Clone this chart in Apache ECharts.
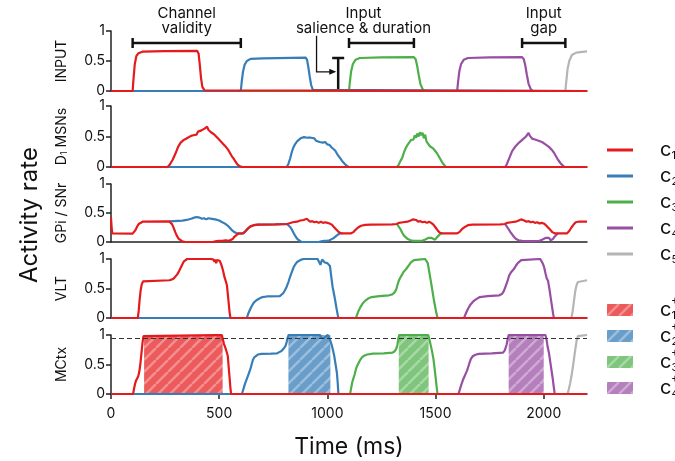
<!DOCTYPE html>
<html lang="en">
<head>
<meta charset="UTF-8">
<script src="https://cdn.jsdelivr.net/npm/echarts@6/dist/echarts.min.js"></script>
<style>html,body{margin:0;padding:0;background:#fff}#main{width:675px;height:461px}</style>
</head>
<body>
<div id="main"></div>
<script>
// time axis / ticks
var timeMax = 2200;
var xTicks = [0, 500, 1000, 1500, 2000];
var channelNames = ['c1', 'c2', 'c3', 'c4', 'c5'];
var patchNames = ['c1+', 'c2+', 'c3+', 'c4+'];
var panelNames = ['INPUT', 'D{s|1} MSNs', 'GPi / SNr', 'VLT', 'MCtx'];
var threshold = 0.95;

// INPUT
var inputC1 = [[0,0],[100,0],[104,0.2],[110,0.45],[117,0.58],[127,0.63],[145,0.655],[250,0.665],[398,0.67],[405,0.62],[410,0.45],[416,0.22],[422,0.07],[432,0.01],[440,0],[2200,0]];
var inputC2 = [[0,0],[600,0],[604,0.15],[610,0.32],[618,0.44],[628,0.5],[645,0.535],[700,0.545],[900,0.555],[906,0.52],[912,0.4],[918,0.25],[925,0.1],[933,0.02],[942,0],[2200,0]];
var inputC3 = [[0,0],[1100,0],[1104,0.15],[1110,0.33],[1118,0.45],[1130,0.52],[1150,0.55],[1250,0.56],[1400,0.565],[1408,0.53],[1415,0.42],[1422,0.27],[1430,0.12],[1440,0.03],[1452,0],[2200,0]];
var inputC4 = [[0,0],[1600,0],[1604,0.15],[1610,0.33],[1618,0.45],[1630,0.52],[1650,0.55],[1750,0.56],[1900,0.565],[1908,0.53],[1915,0.42],[1922,0.27],[1930,0.12],[1940,0.03],[1950,0],[2200,0]];
var inputC5 = [[0,0],[2100,0],[2104,0.15],[2110,0.36],[2118,0.5],[2130,0.6],[2150,0.64],[2200,0.66]];

// D1 MSNs
var d1C1 = [[0,0],[262,0],[272,0.04],[285,0.12],[298,0.22],[310,0.33],[322,0.4],[335,0.44],[345,0.46],[355,0.48],[362,0.47],[370,0.51],[380,0.52],[388,0.55],[395,0.53],[402,0.58],[410,0.56],[418,0.6],[425,0.58],[432,0.63],[438,0.6],[444,0.66],[450,0.61],[456,0.63],[462,0.57],[470,0.59],[478,0.53],[486,0.5],[494,0.47],[502,0.44],[510,0.41],[518,0.38],[526,0.35],[534,0.33],[542,0.28],[550,0.23],[558,0.18],[566,0.14],[575,0.09],[585,0.04],[596,0.01],[608,0],[2200,0]];
var d1C2 = [[0,0],[812,0],[820,0.05],[828,0.14],[836,0.25],[844,0.33],[852,0.38],[860,0.42],[868,0.45],[876,0.47],[884,0.46],[892,0.49],[900,0.46],[908,0.48],[916,0.45],[924,0.48],[932,0.45],[940,0.47],[948,0.43],[956,0.46],[964,0.41],[972,0.43],[980,0.4],[990,0.41],[1000,0.37],[1010,0.36],[1020,0.32],[1028,0.33],[1036,0.27],[1044,0.22],[1052,0.18],[1060,0.14],[1068,0.1],[1076,0.07],[1086,0.03],[1098,0],[2200,0]];
var d1C3 = [[0,0],[1322,0],[1330,0.04],[1338,0.1],[1346,0.15],[1354,0.24],[1362,0.31],[1370,0.36],[1378,0.4],[1386,0.44],[1392,0.47],[1398,0.45],[1404,0.52],[1410,0.48],[1416,0.55],[1422,0.5],[1428,0.57],[1434,0.52],[1440,0.56],[1446,0.47],[1452,0.53],[1458,0.42],[1466,0.38],[1474,0.34],[1482,0.32],[1490,0.3],[1498,0.27],[1506,0.23],[1514,0.18],[1522,0.13],[1530,0.08],[1538,0.04],[1548,0],[2200,0]];
var d1C4 = [[0,0],[1822,0],[1830,0.05],[1838,0.12],[1846,0.19],[1854,0.26],[1862,0.3],[1870,0.34],[1878,0.36],[1886,0.4],[1894,0.42],[1902,0.45],[1910,0.47],[1918,0.5],[1924,0.53],[1930,0.56],[1936,0.51],[1942,0.48],[1948,0.46],[1954,0.44],[1960,0.45],[1968,0.42],[1976,0.43],[1984,0.4],[1992,0.41],[2000,0.38],[2008,0.37],[2016,0.35],[2024,0.33],[2032,0.3],[2040,0.27],[2048,0.23],[2056,0.18],[2064,0.13],[2072,0.09],[2080,0.05],[2088,0.02],[2096,0],[2200,0]];
var d1C5 = [[0,0],[2200,0]];

// GPi / SNr
var gpiC1 = [[0,0.42],[3,0.25],[6,0.15],[100,0.145],[106,0.16],[112,0.2],[120,0.26],[128,0.31],[136,0.34],[146,0.35],[270,0.355],[276,0.34],[283,0.3],[290,0.24],[297,0.17],[304,0.11],[312,0.06],[320,0.03],[330,0.01],[342,0],[470,0],[476,0.02],[482,0.01],[490,0.03],[498,0.02],[506,0.04],[514,0.02],[522,0.04],[530,0.03],[538,0.045],[546,0.02],[554,0.04],[562,0.05],[570,0.09],[578,0.12],[588,0.145],[610,0.15],[620,0.18],[632,0.23],[645,0.27],[660,0.29],[680,0.3],[760,0.305],[814,0.31],[822,0.33],[840,0.34],[860,0.35],[875,0.37],[890,0.38],[898,0.36],[905,0.4],[912,0.37],[920,0.35],[930,0.36],[940,0.34],[950,0.35],[960,0.33],[970,0.35],[980,0.33],[990,0.34],[1000,0.33],[1010,0.32],[1020,0.3],[1030,0.26],[1040,0.22],[1050,0.18],[1060,0.155],[1070,0.15],[1110,0.15],[1120,0.17],[1130,0.21],[1142,0.25],[1156,0.28],[1175,0.295],[1200,0.3],[1300,0.305],[1320,0.31],[1330,0.33],[1350,0.34],[1370,0.35],[1385,0.37],[1395,0.39],[1402,0.36],[1410,0.38],[1420,0.35],[1430,0.36],[1440,0.34],[1450,0.35],[1460,0.33],[1470,0.35],[1480,0.33],[1490,0.3],[1500,0.25],[1510,0.2],[1520,0.16],[1530,0.15],[1600,0.15],[1610,0.17],[1622,0.22],[1636,0.26],[1650,0.29],[1670,0.3],[1800,0.305],[1820,0.31],[1830,0.33],[1850,0.34],[1870,0.35],[1885,0.37],[1895,0.39],[1902,0.36],[1910,0.37],[1920,0.35],[1930,0.36],[1940,0.34],[1950,0.35],[1960,0.33],[1970,0.34],[1980,0.32],[1990,0.33],[2000,0.32],[2010,0.29],[2020,0.25],[2030,0.21],[2040,0.17],[2050,0.15],[2108,0.15],[2118,0.19],[2128,0.25],[2138,0.3],[2148,0.34],[2160,0.35],[2200,0.35]];
var gpiC2 = [[270,0.355],[290,0.36],[310,0.365],[330,0.37],[350,0.38],[370,0.4],[385,0.42],[395,0.43],[402,0.41],[410,0.42],[420,0.4],[430,0.41],[440,0.39],[450,0.41],[458,0.39],[466,0.4],[474,0.38],[482,0.39],[490,0.37],[500,0.37],[510,0.35],[520,0.33],[530,0.31],[540,0.28],[550,0.24],[560,0.2],[570,0.17],[580,0.155],[590,0.15],[610,0.15],[620,0.18],[632,0.23],[645,0.27],[660,0.29],[680,0.3],[760,0.305],[814,0.31],[822,0.29],[830,0.25],[838,0.2],[846,0.14],[854,0.09],[862,0.05],[870,0.02],[880,0],[960,0],[966,0.02],[972,0.01],[978,0.03],[984,0.02],[990,0.04],[996,0.02],[1002,0.04],[1010,0.03],[1020,0.05],[1030,0.07],[1040,0.1],[1050,0.13],[1060,0.15],[1070,0.15]];
var gpiC3 = [[1322,0.31],[1330,0.28],[1338,0.22],[1346,0.16],[1354,0.11],[1362,0.08],[1372,0.05],[1385,0.03],[1400,0.02],[1420,0.02],[1440,0.025],[1450,0.04],[1458,0.06],[1466,0.07],[1474,0.06],[1482,0.07],[1490,0.04],[1498,0.04],[1506,0.08],[1514,0.11],[1522,0.14],[1532,0.15]];
var gpiC4 = [[1822,0.31],[1830,0.28],[1838,0.22],[1846,0.17],[1854,0.13],[1862,0.09],[1872,0.05],[1884,0.03],[1900,0.02],[1940,0.015],[1980,0.02],[1992,0.04],[2000,0.06],[2008,0.07],[2016,0.06],[2024,0.07],[2032,0.03],[2042,0.05],[2050,0.09],[2058,0.12],[2066,0.15]];
var gpiC5 = [];

// VLT
var vltC1 = [[0,0],[124,0],[128,0.12],[132,0.3],[137,0.47],[142,0.57],[148,0.62],[156,0.64],[270,0.64],[280,0.65],[290,0.67],[298,0.7],[306,0.74],[314,0.79],[322,0.85],[330,0.91],[337,0.96],[344,0.99],[352,1],[462,1],[468,0.98],[474,0.99],[478,0.95],[482,0.99],[486,0.93],[490,0.98],[496,0.96],[502,0.97],[507,0.93],[512,0.88],[518,0.8],[524,0.7],[530,0.63],[536,0.55],[540,0.4],[544,0.25],[548,0.1],[552,0],[2200,0]];
var vltC2 = [[0,0],[628,0],[634,0.07],[642,0.14],[650,0.2],[660,0.26],[672,0.3],[686,0.33],[700,0.355],[720,0.365],[780,0.37],[788,0.39],[796,0.42],[804,0.47],[812,0.53],[820,0.61],[828,0.7],[836,0.78],[844,0.86],[852,0.91],[860,0.95],[870,0.97],[880,0.99],[890,1],[955,1],[962,0.98],[968,0.9],[972,0.95],[976,0.99],[982,0.98],[988,0.94],[994,0.97],[1000,0.93],[1006,0.95],[1012,0.88],[1018,0.7],[1024,0.53],[1030,0.42],[1036,0.3],[1042,0.17],[1047,0.07],[1051,0],[2200,0]];
var vltC3 = [[0,0],[1132,0],[1138,0.06],[1144,0.12],[1152,0.18],[1162,0.24],[1174,0.29],[1188,0.33],[1205,0.355],[1240,0.37],[1285,0.385],[1300,0.4],[1310,0.43],[1318,0.48],[1324,0.56],[1330,0.63],[1338,0.69],[1346,0.74],[1352,0.78],[1362,0.82],[1370,0.86],[1378,0.9],[1385,0.94],[1392,0.96],[1400,0.98],[1408,1],[1452,1],[1458,0.98],[1464,0.93],[1470,0.8],[1478,0.63],[1486,0.45],[1494,0.27],[1502,0.12],[1509,0],[2200,0]];
var vltC4 = [[0,0],[1632,0],[1638,0.06],[1644,0.11],[1652,0.17],[1662,0.23],[1674,0.28],[1688,0.32],[1705,0.355],[1740,0.37],[1795,0.385],[1808,0.41],[1816,0.46],[1822,0.52],[1828,0.58],[1834,0.64],[1840,0.72],[1848,0.77],[1856,0.8],[1864,0.84],[1872,0.89],[1880,0.93],[1888,0.96],[1896,0.98],[1904,1],[1984,1],[1990,0.97],[1996,0.92],[2002,0.86],[2008,0.76],[2014,0.67],[2020,0.63],[2026,0.5],[2032,0.35],[2038,0.2],[2043,0.08],[2047,0],[2200,0]];
var vltC5 = [[0,0],[2128,0],[2134,0.12],[2140,0.3],[2146,0.46],[2152,0.56],[2158,0.61],[2166,0.635],[2200,0.64]];

// MCtx
var mctxC1 = [[0,0],[102,0],[106,0.08],[111,0.17],[116,0.23],[121,0.26],[126,0.3],[131,0.38],[136,0.52],[141,0.7],[146,0.88],[150,0.98],[153,1],[512,1],[516,0.94],[522,0.85],[528,0.79],[534,0.72],[540,0.64],[544,0.45],[548,0.28],[552,0.1],[555,0],[2200,0]];
var mctxC2 = [[0,0],[605,0],[610,0.06],[615,0.12],[620,0.18],[626,0.24],[632,0.3],[638,0.36],[644,0.42],[650,0.5],[656,0.58],[662,0.62],[670,0.65],[680,0.67],[695,0.68],[740,0.685],[768,0.69],[778,0.71],[788,0.73],[798,0.77],[806,0.81],[812,0.88],[817,0.96],[821,1],[966,1],[972,0.95],[978,0.94],[984,0.95],[990,0.96],[1002,1],[1008,0.98],[1014,0.9],[1020,0.83],[1026,0.74],[1032,0.64],[1038,0.5],[1044,0.36],[1048,0.18],[1051,0],[2200,0]];
var mctxC3 = [[0,0],[1105,0],[1110,0.1],[1115,0.2],[1120,0.26],[1126,0.33],[1132,0.42],[1138,0.48],[1145,0.53],[1152,0.58],[1160,0.62],[1170,0.65],[1184,0.67],[1210,0.685],[1260,0.69],[1300,0.7],[1310,0.72],[1318,0.76],[1324,0.84],[1328,0.94],[1332,1],[1466,1],[1472,0.92],[1478,0.82],[1484,0.72],[1490,0.6],[1496,0.42],[1501,0.26],[1505,0.12],[1509,0],[2200,0]];
var mctxC4 = [[0,0],[1606,0],[1611,0.06],[1616,0.12],[1622,0.19],[1628,0.25],[1634,0.3],[1640,0.35],[1646,0.4],[1652,0.47],[1658,0.54],[1664,0.6],[1672,0.64],[1684,0.665],[1700,0.68],[1760,0.69],[1812,0.7],[1820,0.74],[1828,0.83],[1834,0.94],[1838,1],[2008,1],[2014,0.9],[2018,0.8],[2024,0.7],[2030,0.55],[2036,0.4],[2042,0.25],[2047,0.1],[2051,0],[2200,0]];
var mctxC5 = [[0,0],[2110,0],[2116,0.08],[2122,0.18],[2128,0.3],[2134,0.44],[2140,0.6],[2146,0.76],[2152,0.9],[2158,0.98],[2166,1],[2200,1]];

// selected (c+) windows in MCtx
var patchC1 = [153, 516];
var patchC2 = [820, 1014];
var patchC3 = [1330, 1468];
var patchC4 = [1838, 2000];

// annotations (INPUT panel units)
var validitySpan = [100, 600];
var salienceSpan = [1100, 1400];
var gapSpan = [1900, 2100];
var bracketLevel = 0.8;
var salienceMark = [1050, 0.55];
var arrowPath = [[950, 0.92], [950, 0.32], [1018, 0.32]];

var colors = ['#e41a1c', '#377eb8', '#4daf4a', '#984ea3', '#b5b5b5'];
var patchFill = ['rgba(228,26,28,0.72)', 'rgba(55,126,184,0.75)', 'rgba(77,175,74,0.72)', 'rgba(152,78,163,0.72)'];
var FONT = 'Inter, "Liberation Sans", sans-serif';

var panels = [
  [inputC1, inputC2, inputC3, inputC4, inputC5],
  [d1C1, d1C2, d1C3, d1C4, d1C5],
  [gpiC1, gpiC2, gpiC3, gpiC4, gpiC5],
  [vltC1, vltC2, vltC3, vltC4, vltC5],
  [mctxC1, mctxC2, mctxC3, mctxC4, mctxC5]
];
var patches = [patchC1, patchC2, patchC3, patchC4];
var gridBoxes = [[31, 60], [106, 61], [184, 58], [259, 59], [335, 59]];

// legend geometry
var legendX = 607, legendTextX = 660, rowH = 22, rowGap = 4;
var lineLegendTop = 139, patchLegendTop = 299;

function hatch(fill) {
  var cv = document.createElement('canvas');
  cv.width = 12; cv.height = 12;
  var ctx = cv.getContext('2d');
  ctx.fillStyle = fill;
  ctx.fillRect(0, 0, 12, 12);
  ctx.strokeStyle = 'rgba(255,255,255,0.33)';
  ctx.lineWidth = 2.5;
  [-12, 0, 12].forEach(function (o) {
    ctx.beginPath();
    ctx.moveTo(o, 12);
    ctx.lineTo(o + 12, 0);
    ctx.stroke();
  });
  return { image: cv, repeat: 'repeat' };
}
var patterns = patchFill.map(hatch);

var chart = echarts.init(document.getElementById('main'), null, { renderer: 'canvas' });

var grid = [], xAxis = [], yAxis = [], series = [];
gridBoxes.forEach(function (b, p) {
  var last = p === gridBoxes.length - 1;
  grid.push({ left: 111, right: 88, top: b[0], height: b[1] });
  xAxis.push({
    type: 'value', gridIndex: p, min: 0, max: timeMax,
    axisLine: { show: true, lineStyle: { color: '#222', width: 1.5 } },
    axisTick: { show: last, length: 5, customValues: xTicks, lineStyle: { color: '#222', width: 1.5 } },
    axisLabel: {
      show: last, customValues: xTicks, fontSize: 14, color: '#111', fontFamily: FONT, margin: 13,
      formatter: function (v) { return String(v); }
    },
    splitLine: { show: false },
    name: last ? 'Time (ms)' : '', nameLocation: 'middle', nameGap: 42,
    nameTextStyle: { fontSize: 23, color: '#111', fontFamily: FONT }
  });
  yAxis.push({
    type: 'value', gridIndex: p, min: 0, max: 1, interval: 0.5,
    axisLine: { show: true, lineStyle: { color: '#222', width: 1.5 } },
    axisTick: { show: true, length: 5, lineStyle: { color: '#222', width: 1.5 } },
    axisLabel: { fontSize: 14, color: '#111', fontFamily: FONT, margin: 6 },
    splitLine: { show: false },
    name: panelNames[p], nameLocation: 'middle', nameGap: 42,
    nameTextStyle: {
      fontSize: 14, color: '#111', fontFamily: FONT,
      rich: { s: { fontSize: 9, verticalAlign: 'bottom', fontFamily: FONT, color: '#111' } }
    }
  });
  // draw c5 first, c1 last (on top)
  for (var c = 4; c >= 0; c--) {
    var d = panels[p][c];
    if (!d.length) continue;
    var s = {
      type: 'line', name: channelNames[c], xAxisIndex: p, yAxisIndex: p,
      data: d, symbol: 'none', showSymbol: false, animation: false, z: 3,
      lineStyle: { color: colors[c], width: 2.2 }, itemStyle: { color: colors[c] }
    };
    if (last && c === 0) {
      s.markLine = {
        silent: true, symbol: 'none', label: { show: false }, animation: false,
        lineStyle: { color: '#333', width: 1.2, type: [5, 3] },
        data: [{ yAxis: threshold }]
      };
    }
    series.push(s);
  }
});

patches.forEach(function (span, i) {
  series.push({
    type: 'line', name: patchNames[i], xAxisIndex: 4, yAxisIndex: 4, data: [],
    z: 1, animation: false, itemStyle: { color: patchFill[i] },
    markArea: {
      silent: true, animation: false,
      itemStyle: { color: patterns[i] },
      data: [[{ xAxis: span[0] }, { xAxis: span[1] }]]
    }
  });
});

var blankText = { fontSize: 19, lineHeight: rowH, color: 'transparent' };
chart.setOption({
  backgroundColor: '#fff',
  animation: false,
  grid: grid,
  xAxis: xAxis,
  yAxis: yAxis,
  series: series,
  legend: [
    {
      orient: 'vertical', left: legendX, top: lineLegendTop, padding: 0, itemGap: rowGap,
      itemWidth: 26, itemHeight: 3, icon: 'rect', selectedMode: false, data: channelNames,
      formatter: function () { return ' '; }, textStyle: blankText
    },
    {
      orient: 'vertical', left: legendX, top: patchLegendTop, padding: 0, itemGap: rowGap,
      itemWidth: 26, itemHeight: 12, selectedMode: false,
      data: patchNames.map(function (n, i) {
        return { name: n, icon: 'rect', itemStyle: { color: patterns[i] } };
      }),
      formatter: function () { return ' '; }, textStyle: blankText
    }
  ]
});

var graphics = [];

// legend labels: c with subscript, + stacked above the subscript
var labelRich = {
  c: { fontSize: 20, lineHeight: 22, fill: '#111', fontFamily: FONT },
  s: { fontSize: 11, verticalAlign: 'bottom', fill: '#111', fontFamily: FONT }
};
function addLabels(names, top) {
  names.forEach(function (name, i) {
    var n = name.replace('c', '').replace('+', '');
    var cy = top + i * (rowH + rowGap) + rowH / 2;
    graphics.push({
      type: 'text', x: legendTextX, y: cy,
      style: { text: '{c|c}{s|' + n + '}', rich: labelRich, fill: '#111', align: 'left', verticalAlign: 'middle', textAlign: 'left', textVerticalAlign: 'middle' }
    });
    if (name.indexOf('+') >= 0) {
      graphics.push({
        type: 'text', x: legendTextX + 11, y: cy - 10,
        style: { text: '+', fill: '#111', font: '12px ' + FONT, align: 'left', verticalAlign: 'middle', textAlign: 'left', textVerticalAlign: 'middle' }
      });
    }
  });
}
addLabels(channelNames, lineLegendTop);
addLabels(patchNames, patchLegendTop);

// annotations placed from data coordinates of the INPUT panel
function px(pt) { return chart.convertToPixel({ gridIndex: 0 }, pt); }
var ink = { stroke: '#111', lineWidth: 2.5 };
function bracket(span, text, textX) {
  var a = px([span[0], bracketLevel]);
  var b = px([span[1], bracketLevel]);
  graphics.push({ type: 'line', shape: { x1: a[0], y1: a[1], x2: b[0], y2: b[1] }, style: ink });
  graphics.push({ type: 'line', shape: { x1: a[0], y1: a[1] - 5, x2: a[0], y2: a[1] + 5 }, style: ink });
  graphics.push({ type: 'line', shape: { x1: b[0], y1: b[1] - 5, x2: b[0], y2: b[1] + 5 }, style: ink });
  var tx = px([textX, bracketLevel])[0];
  graphics.push({
    type: 'text', x: tx, y: a[1] - 7,
    style: {
      text: text, fill: '#111', font: '15px ' + FONT, lineHeight: 15,
      align: 'center', verticalAlign: 'bottom', textAlign: 'center', textVerticalAlign: 'bottom'
    }
  });
}
bracket(validitySpan, 'Channel\nvalidity', (validitySpan[0] + validitySpan[1]) / 2);
bracket(salienceSpan, 'Input\nsalience & duration', 1167);
bracket(gapSpan, 'Input\ngap', (gapSpan[0] + gapSpan[1]) / 2);

var m0 = px([salienceMark[0], 0]);
var m1 = px(salienceMark);
graphics.push({ type: 'line', shape: { x1: m0[0], y1: m0[1], x2: m1[0], y2: m1[1] }, style: ink });
graphics.push({ type: 'line', shape: { x1: m1[0] - 6, y1: m1[1], x2: m1[0] + 6, y2: m1[1] }, style: ink });

var ap = arrowPath.map(px);
graphics.push({ type: 'polyline', shape: { points: ap }, style: { stroke: '#111', lineWidth: 1.3, fill: null } });
var tip = ap[ap.length - 1];
graphics.push({ type: 'polygon', shape: { points: [[tip[0] + 5, tip[1]], [tip[0] - 2, tip[1] - 3], [tip[0] - 2, tip[1] + 3]] }, style: { fill: '#111' } });

graphics.push({
  type: 'text', x: 30, y: 215, rotation: Math.PI / 2,
  style: {
    text: 'Activity rate', fill: '#111', font: '24px ' + FONT,
    align: 'center', verticalAlign: 'middle', textAlign: 'center', textVerticalAlign: 'middle'
  }
});

chart.setOption({ graphic: graphics });
</script>
</body>
</html>
